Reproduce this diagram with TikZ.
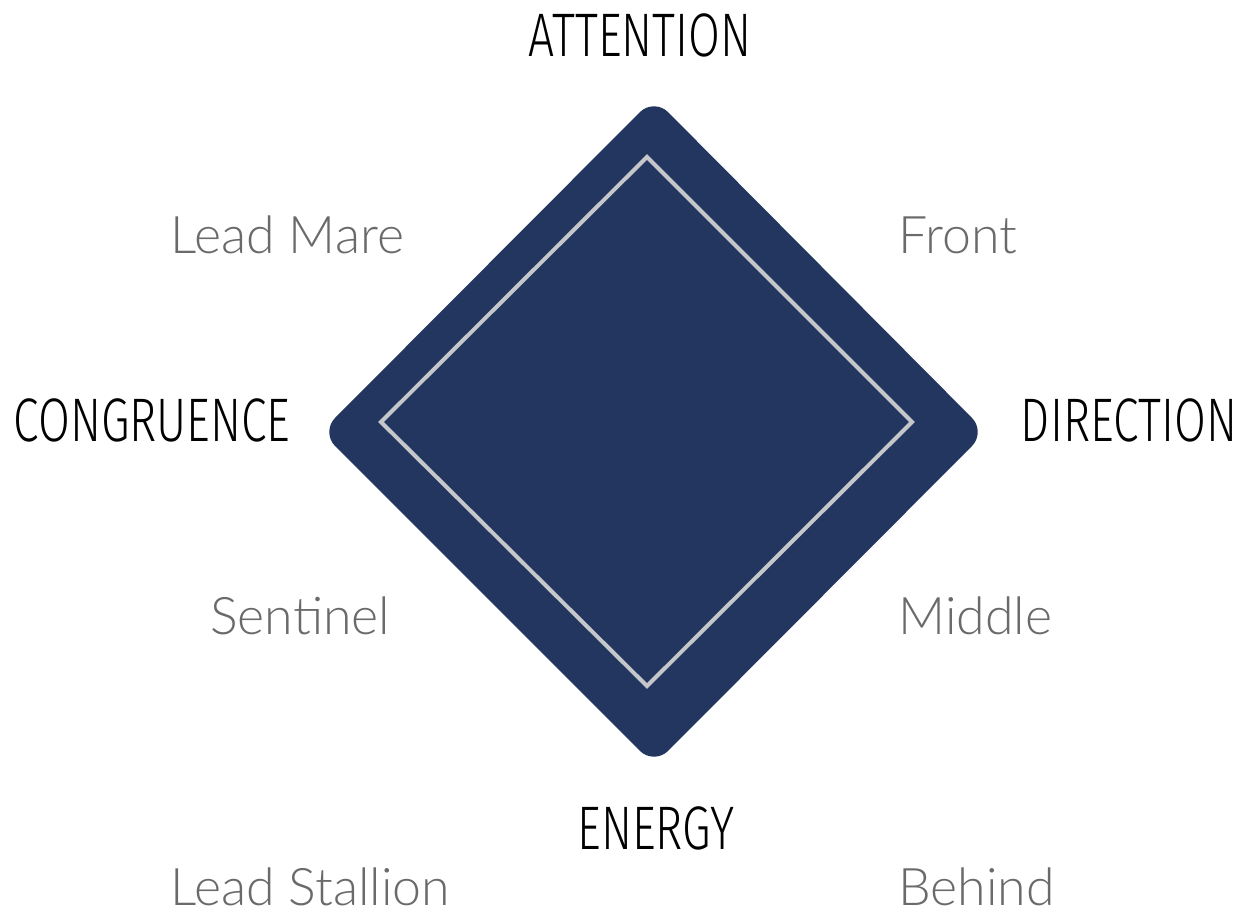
\documentclass[tikz,border=0pt]{standalone}
\usepackage{fontspec}
\usepackage{xcolor}
\newfontfamily\capsfont[FakeStretch=0.75]{Fira Sans Light}
\newfontfamily\softfont{Lato Light}
\definecolor{navy}{HTML}{22365F}
\definecolor{softgray}{HTML}{6A6A6A}
\definecolor{rimgray}{HTML}{C6C7CB}
\tikzstyle{corner} = [text height=0.86cm, text depth=0pt, inner sep=0pt, font=\capsfont\fontsize{35}{40}\selectfont]
\tikzstyle{role} = [anchor=west, text height=0.70cm, text depth=0pt, inner sep=0pt, text=softgray,
font=\softfont\fontsize{29.5}{34}\selectfont]

\begin{document}
\begin{tikzpicture}
        \useasboundingbox (0,0) rectangle (24.96,-18.22);

        % Diamond
        \fill[navy, rounded corners=0.4cm] (13.08,-1.96) -- (19.72,-8.64) -- (13.08,-15.3) --
        (6.42,-8.64) -- cycle;
        \draw[rimgray, line width=0.08cm] (12.94,-3.14) -- (18.24,-8.44) -- (12.94,-13.72) --
        (7.62,-8.44) -- cycle;

        % Corners
        \draw (12.8,-0.7) node[corner] (att) {ATTENTION};
        \draw (3.04,-8.4) node[corner] (con) {CONGRUENCE};
        \draw (22.58,-8.4) node[corner] (dir) {DIRECTION};
        \draw (13.12,-16.56) node[corner] (ene) {ENERGY};

        % Roles
        \draw (3.4,-4.73) node[role] (mare) {Lead Mare};
        \draw (17.96,-4.73) node[role] (front) {Front};
        \draw (4.2,-12.34) node[role] (sent) {Sentinel};
        \draw (17.96,-12.34) node[role] (mid) {Middle};
        \draw (3.4,-17.76) node[role] (stal) {Lead Stallion};
        \draw (17.96,-17.76) node[role] (behind) {Behind};
    \end{tikzpicture}
\end{document}
